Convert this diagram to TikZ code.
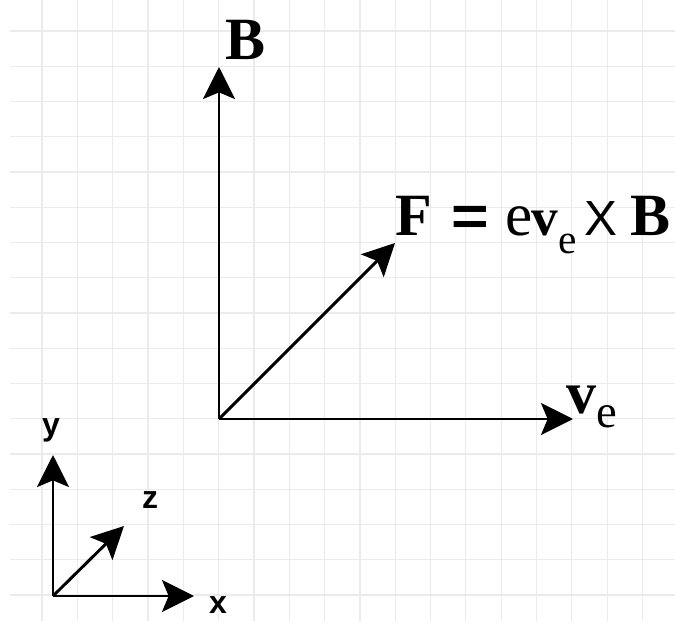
\documentclass[tikz,border=0pt]{standalone}
\usepackage{fontspec}
\setmainfont{Liberation Serif}
\setsansfont{Liberation Sans}
\usetikzlibrary{positioning,arrows.meta}

\begin{document}
\begin{tikzpicture}[
        x=0.75pt, y=-0.75pt,
        vec/.style={line width=2.2pt, -{Stealth[length=24pt, width=24pt, inset=5pt]}},
        gridline/.style={draw=black!8, line width=0.8pt},
        lbl/.style={inner sep=0pt, font=\fontsize{45}{50}\selectfont},
        axlbl/.style={inner sep=0pt, font=\fontsize{24}{28}\selectfont\sffamily\bfseries}
    ]
        \useasboundingbox (0,0) rectangle (675,621);
        % background grid
        \foreach \k in {0,...,17} \draw[gridline] (42+35.33*\k,0) -- (42+35.33*\k,621);
        \foreach \k in {0,...,16} \draw[gridline] (10,31+35.25*\k) -- (675,31+35.25*\k);
        % vectors
        \coordinate (O) at (219,419);
        \coordinate (Btip) at (219,67);
        \coordinate (Ftip) at (395,243);
        \coordinate (vtip) at (573,419);
        \draw[vec] (O) -- (Btip);
        \draw[vec] (O) -- (Ftip);
        \draw[vec] (O) -- (vtip);
        \node[lbl, anchor=base west] (Blbl) at (225,60) {\bfseries B};
        \node[lbl, anchor=base west] (Flbl) at (395,235) {\bfseries F\hspace{15pt}%
            \scalebox{1.15}[1]{\fontsize{42}{48}\selectfont\sffamily =}\hspace{12pt}%
            {\fontsize{46}{48}\selectfont\mdseries e}\hspace{-1pt}%
            {\fontsize{40}{44}\selectfont v}%
            \raisebox{-13.5pt}{\fontsize{31}{32}\selectfont\mdseries e}\hspace{6pt}%
            {\fontsize{37}{40}\selectfont\mdseries\sffamily X}\hspace{10pt}B};
        \node[lbl, anchor=base west] (vlbl) at (566,413) {\bfseries v%
            \raisebox{-11pt}{\fontsize{35}{38}\selectfont\mdseries e}};
        % small axes
        \coordinate (o) at (53,596);
        \coordinate (ytip) at (53,455);
        \coordinate (xtip) at (194,596);
        \coordinate (ztip) at (124,526);
        \draw[vec] (o) -- (ytip);
        \draw[vec] (o) -- (xtip);
        \draw[vec] (o) -- (ztip);
        \node[axlbl] (ylbl) at (51,430) {y};
        \node[axlbl] (zlbl) at (150,500) {z};
        \node[axlbl] (xlbl) at (218,605) {x};
    \end{tikzpicture}
\end{document}
